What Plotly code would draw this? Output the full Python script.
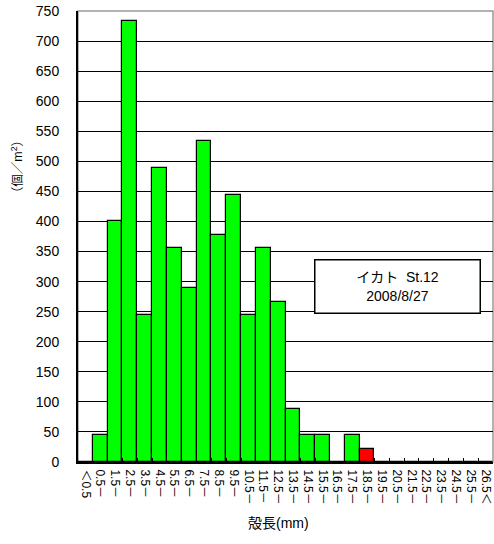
import plotly.graph_objects as go

# size classes (shell length, mm)
categories = ["＜0.5"] + [f"{i}.5－" for i in range(0, 26)] + ["26.5＜"]
# density (ind./m2)
values = [0, 44.4, 400.0, 733.3, 244.4, 488.9, 355.6, 288.9, 533.3, 377.8,
          444.4, 244.4, 355.6, 266.7, 88.9, 44.4, 44.4, 0, 44.4, 22.2,
          0, 0, 0, 0, 0, 0, 0, 0]
highlight = ["18.5－"]

colors = ['#ff0000' if c in highlight else '#00ff00' for c in categories]

font_family = "Liberation Sans, Arial, Noto Sans CJK JP"

fig = go.Figure()
fig.add_trace(go.Bar(
    x=categories,
    y=values,
    marker=dict(color=colors, line=dict(color='black', width=1.2)),
    showlegend=False
))

fig.update_layout(
    width=494, height=544,
    margin=dict(l=78, r=1, t=11, b=82),
    plot_bgcolor='white',
    paper_bgcolor='white',
    bargap=0,
    font=dict(family=font_family, size=13, color='black'),
    xaxis=dict(
        type='category',
        tickmode='array', tickvals=categories, ticktext=categories,
        tickangle=90,
        tickfont=dict(size=12),
        ticks='inside', ticklen=4, tickcolor='black', tickwidth=1,
        tickson='boundaries',
        ticklabelstandoff=3,
        showline=True, linecolor='black', linewidth=2,
        showgrid=False,
        automargin=False,
    ),
    yaxis=dict(
        range=[0, 750],
        dtick=50,
        tickfont=dict(size=14),
        ticklabelstandoff=14,
        showline=True, linecolor='black', linewidth=2,
        gridcolor='black', gridwidth=1,
        ticks='', zeroline=False,
        automargin=False,
    ),
    shapes=[dict(type='rect', xref='paper', yref='paper', x0=0, x1=1, y0=0, y1=1,
                 line=dict(color='#999999', width=1.5), layer='below')],
    annotations=[
        dict(text="（個／m<sup>2</sup>）", xref='paper', yref='paper',
             x=-0.148, y=0.655, xanchor='center', yanchor='middle',
             textangle=-90, showarrow=False, font=dict(size=12.5)),
        dict(text="殻長(mm)", xref='paper', yref='paper',
             x=0.483, y=-0.135, xanchor='center', yanchor='middle',
             showarrow=False, font=dict(size=14)),
        dict(text="イカト  St.12<br>2008/8/27", xref='paper', yref='paper',
             x=0.769, y=0.39, xanchor='center', yanchor='middle',
             showarrow=False, font=dict(size=14),
             bgcolor='white', bordercolor='black', borderwidth=1.5,
             width=162, height=50, align='center'),
    ],
)

# remove the default page margin so the figure sits at the window's corner
fig.write_html("out.html", config={'displayModeBar': False},
               post_script="document.body.style.margin='0';")
